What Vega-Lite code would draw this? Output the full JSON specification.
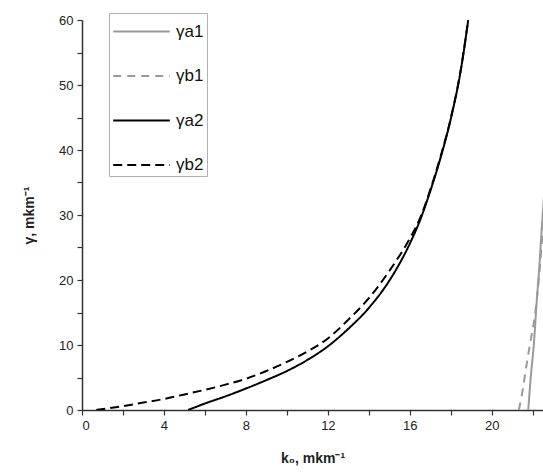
{
  "$schema": "https://vega.github.io/schema/vega-lite/v6.json",
  "width": 461,
  "height": 390,
  "autosize": "none",
  "padding": {"left": 82, "top": 20, "right": 0, "bottom": 62},
  "background": "white",
  "config": {
    "view": {"stroke": null},
    "font": "Liberation Sans",
    "axis": {
      "domainColor": "#333",
      "domainWidth": 1.5,
      "tickColor": "#333",
      "tickWidth": 1.2,
      "tickSize": 5,
      "grid": false,
      "labelFont": "Liberation Sans",
      "labelFontSize": 13,
      "labelColor": "#222",
      "titleFont": "Liberation Sans",
      "titleFontSize": 14,
      "titleFontWeight": "bold",
      "titleColor": "#222"
    }
  },
  "data": {
    "values": [
      {"series": "γa2", "k": 5.18, "g": 0},
      {"series": "γa2", "k": 6.0, "g": 1.0},
      {"series": "γa2", "k": 7.0, "g": 2.1},
      {"series": "γa2", "k": 8.0, "g": 3.3},
      {"series": "γa2", "k": 9.0, "g": 4.6},
      {"series": "γa2", "k": 10.0, "g": 6.0},
      {"series": "γa2", "k": 11.0, "g": 7.7},
      {"series": "γa2", "k": 12.0, "g": 9.8},
      {"series": "γa2", "k": 13.0, "g": 12.5},
      {"series": "γa2", "k": 14.0, "g": 15.7},
      {"series": "γa2", "k": 15.0, "g": 19.9},
      {"series": "γa2", "k": 16.0, "g": 25.6},
      {"series": "γa2", "k": 16.5, "g": 29.2},
      {"series": "γa2", "k": 17.0, "g": 33.7},
      {"series": "γa2", "k": 17.5, "g": 38.8},
      {"series": "γa2", "k": 18.0, "g": 44.8},
      {"series": "γa2", "k": 18.5, "g": 52.5},
      {"series": "γa2", "k": 18.85, "g": 60},
      {"series": "γb2", "k": 0.7, "g": 0},
      {"series": "γb2", "k": 2.0, "g": 0.6},
      {"series": "γb2", "k": 3.0, "g": 1.15},
      {"series": "γb2", "k": 4.0, "g": 1.7},
      {"series": "γb2", "k": 5.0, "g": 2.4},
      {"series": "γb2", "k": 6.0, "g": 3.1},
      {"series": "γb2", "k": 7.0, "g": 3.9},
      {"series": "γb2", "k": 8.0, "g": 4.8},
      {"series": "γb2", "k": 9.0, "g": 6.0},
      {"series": "γb2", "k": 10.0, "g": 7.4},
      {"series": "γb2", "k": 11.0, "g": 9.0},
      {"series": "γb2", "k": 12.0, "g": 11.0},
      {"series": "γb2", "k": 13.0, "g": 13.9},
      {"series": "γb2", "k": 14.0, "g": 17.2},
      {"series": "γb2", "k": 15.0, "g": 21.4},
      {"series": "γb2", "k": 16.0, "g": 26.4},
      {"series": "γb2", "k": 16.5, "g": 29.5},
      {"series": "γb2", "k": 17.0, "g": 33.9},
      {"series": "γb2", "k": 17.5, "g": 39.0},
      {"series": "γb2", "k": 18.0, "g": 44.9},
      {"series": "γb2", "k": 18.5, "g": 52.6},
      {"series": "γb2", "k": 18.85, "g": 60},
      {"series": "γa1", "k": 21.78, "g": 0},
      {"series": "γa1", "k": 21.9, "g": 5},
      {"series": "γa1", "k": 22.05, "g": 10},
      {"series": "γa1", "k": 22.2, "g": 17},
      {"series": "γa1", "k": 22.32, "g": 22},
      {"series": "γa1", "k": 22.42, "g": 27},
      {"series": "γa1", "k": 22.55, "g": 33},
      {"series": "γa1", "k": 22.7, "g": 40},
      {"series": "γb1", "k": 21.32, "g": 0},
      {"series": "γb1", "k": 21.45, "g": 2},
      {"series": "γb1", "k": 21.7, "g": 7},
      {"series": "γb1", "k": 21.93, "g": 11.3},
      {"series": "γb1", "k": 22.1, "g": 14.4},
      {"series": "γb1", "k": 22.26, "g": 19},
      {"series": "γb1", "k": 22.4, "g": 24},
      {"series": "γb1", "k": 22.55, "g": 30},
      {"series": "γb1", "k": 22.7, "g": 36}
    ]
  },
  "mark": {"type": "line", "clip": true, "interpolate": "monotone"},
  "encoding": {
    "x": {
      "field": "k",
      "type": "quantitative",
      "scale": {"domain": [0, 22.5], "nice": false, "zero": false},
      "axis": {
        "title": "k₀, mkm⁻¹",
        "values": [0, 2, 4, 6, 8, 10, 12, 14, 16, 18, 20, 22],
        "labelExpr": "datum.value % 4 === 0 ? datum.label : ''",
        "labelPadding": 4,
        "titlePadding": 19
      }
    },
    "y": {
      "field": "g",
      "type": "quantitative",
      "scale": {"domain": [0, 60], "nice": false},
      "axis": {
        "title": "γ, mkm⁻¹",
        "values": [0, 5, 10, 15, 20, 25, 30, 35, 40, 45, 50, 55, 60],
        "labelExpr": "datum.value % 10 === 0 ? datum.label : ''",
        "labelPadding": 4,
        "titlePadding": 22
      }
    },
    "color": {
      "field": "series",
      "type": "nominal",
      "scale": {"domain": ["γa1", "γb1", "γa2", "γb2"], "range": ["#9a9a9a", "#9a9a9a", "#000000", "#000000"]},
      "legend": {
        "title": null,
        "orient": "none",
        "legendX": 27,
        "legendY": -7,
        "strokeColor": "#b0b0b0",
        "fillColor": "white",
        "padding": 3,
        "symbolType": "M-2,0H2",
        "symbolSize": 800,
        "symbolOffset": 14,
        "symbolStrokeWidth": 2.2,
        "labelFontSize": 17,
        "labelFont": "Liberation Sans",
        "labelColor": "#111",
        "labelOffset": 19,
        "rowPadding": 20.5
      }
    },
    "strokeDash": {
      "field": "series",
      "type": "nominal",
      "scale": {"domain": ["γa1", "γb1", "γa2", "γb2"], "range": [[1, 0], [8, 6], [1, 0], [9, 5]]}
    },
    "strokeWidth": {
      "field": "series",
      "type": "nominal",
      "scale": {"domain": ["γa1", "γb1", "γa2", "γb2"], "range": [2, 2, 2.5, 2.5]}
    }
  }
}
